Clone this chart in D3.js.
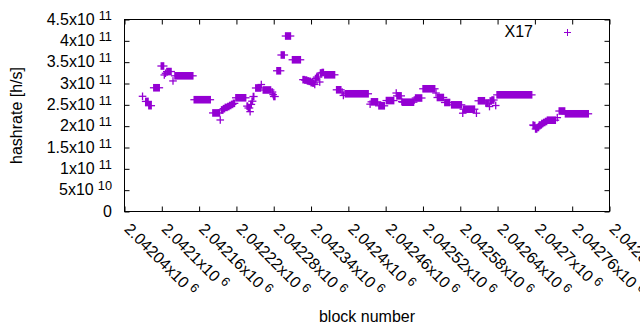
<!DOCTYPE html>
<html>
<head>
<meta charset="utf-8">
<script src="https://cdn.jsdelivr.net/npm/d3@7"></script>
<style>
  body { margin: 0; background: #fff; }
  svg { display: block; font-family: "Liberation Sans", Arial, sans-serif; }
</style>
</head>
<body>
<script>
const width = 640,
  height = 330;

// plot frame (pixel edges of the gnuplot box)
const frame = { left: 124.5, right: 609.5, top: 19.5, bottom: 211.5 };

// runs of consecutive blocks that share one hashrate value (h/s)
const runStart = [
  2042069, 2042074, 2042079, 2042087, 2042099, 2042104, 2042106, 2042108, 2042118, 2042121,
  2042152, 2042182, 2042194, 2042196, 2042199, 2042202, 2042206, 2042209, 2042212, 2042215,
  2042219, 2042237, 2042239, 2042242, 2042243, 2042245, 2042247, 2042251, 2042260, 2042263,
  2042277, 2042279, 2042280, 2042285, 2042292, 2042299, 2042310, 2042327, 2042330, 2042334,
  2042337, 2042340, 2042343, 2042346, 2042347, 2042349, 2042354, 2042355, 2042358, 2042362,
  2042381, 2042390, 2042392, 2042395, 2042435, 2042437, 2042449, 2042461, 2042477, 2042478,
  2042486, 2042487, 2042506, 2042508, 2042520, 2042541, 2042543, 2042555, 2042566, 2042584,
  2042585, 2042606, 2042609, 2042621, 2042627, 2042628, 2042631, 2042637, 2042639, 2042697,
  2042698, 2042701, 2042704, 2042707, 2042711, 2042714, 2042717, 2042720, 2042736, 2042739,
  2042749
];
const runEnd = [
  2042069, 2042078, 2042083, 2042096, 2042103, 2042104, 2042106, 2042115, 2042118, 2042150,
  2042178, 2042193, 2042194, 2042198, 2042201, 2042205, 2042208, 2042211, 2042214, 2042217,
  2042235, 2042238, 2042241, 2042242, 2042244, 2042246, 2042248, 2042259, 2042260, 2042275,
  2042278, 2042279, 2042282, 2042291, 2042297, 2042307, 2042323, 2042329, 2042333, 2042336,
  2042339, 2042342, 2042345, 2042346, 2042348, 2042352, 2042354, 2042357, 2042360, 2042378,
  2042388, 2042390, 2042392, 2042432, 2042435, 2042447, 2042458, 2042473, 2042477, 2042485,
  2042486, 2042505, 2042506, 2042518, 2042539, 2042541, 2042553, 2042563, 2042582, 2042584,
  2042603, 2042606, 2042619, 2042625, 2042627, 2042630, 2042634, 2042637, 2042695, 2042697,
  2042700, 2042703, 2042706, 2042710, 2042713, 2042716, 2042719, 2042733, 2042736, 2042748,
  2042786
];
const runRate = [
  270e9, 258e9, 248e9, 290e9, 341e9, 320e9, 324e9, 328e9, 306e9, 318e9,
  262e9, 231e9, 214.5e9, 238e9, 241e9, 244e9, 246e9, 248.5e9, 251e9, 253.5e9,
  266.5e9, 247e9, 242.6e9, 234e9, 251e9, 258.5e9, 269.5e9, 289.5e9, 297.6e9, 284.8e9,
  280e9, 274e9, 269.5e9, 329.8e9, 366.8e9, 411.3e9, 355.6e9, 309e9, 308e9, 306e9,
  305e9, 302e9, 301e9, 297.7e9, 311.7e9, 315e9, 303.5e9, 324.6e9, 325.8e9, 320.4e9,
  285.2e9, 280e9, 272e9, 275.9e9, 251.6e9, 257e9, 247.7e9, 260e9, 277.7e9, 271e9,
  257.8e9, 256.2e9, 261.3e9, 266e9, 287.6e9, 277.7e9, 267.2e9, 255.5e9, 250e9, 230.4e9,
  239.8e9, 230.4e9, 259.5e9, 254.3e9, 246e9, 259e9, 261.3e9, 248.4e9, 273.5e9, 202.7e9,
  201.6e9, 193.4e9, 196.9e9, 202.7e9, 206.3e9, 208.6e9, 211e9, 214e9, 220e9, 235.5e9,
  229e9
];

// axis ticks and their labels
const xTicks = [2042040, 2042100, 2042160, 2042220, 2042280, 2042340, 2042400,
  2042460, 2042520, 2042580, 2042640, 2042700, 2042760, 2042820];
const xTickLabels = ["2.04204", "2.0421", "2.04216", "2.04222", "2.04228", "2.04234", "2.0424",
  "2.04246", "2.04252", "2.04258", "2.04264", "2.0427", "2.04276", "2.04282"];
const yTicks = [0, 5e10, 1e11, 1.5e11, 2e11, 2.5e11, 3e11, 3.5e11, 4e11, 4.5e11];
const yTickBase = ["0", "5x10", "1x10", "1.5x10", "2x10", "2.5x10", "3x10", "3.5x10", "4x10", "4.5x10"];
const yTickExp = ["", "10", "11", "11", "11", "11", "11", "11", "11", "11"];

const seriesName = "X17";
const color = "#9400d3";

const runs = runStart.map((s, i) => ({ start: s, end: runEnd[i], rate: runRate[i] }));

const xScale = d3.scaleLinear()
  .domain([xTicks[0], xTicks[xTicks.length - 1]])
  .range([frame.left, frame.right]);

const yScale = d3.scaleLinear()
  .domain([0, 4.5e11])
  .range([frame.bottom, frame.top]);

const svg = d3.select("body")
  .append("svg")
  .attr("width", width)
  .attr("height", height);

// ticks on all four sides, pointing inward
svg.append("g")
  .attr("transform", `translate(0,${frame.bottom})`)
  .call(d3.axisBottom(xScale).tickValues(xTicks).tickSize(-5).tickFormat(""));
svg.append("g")
  .attr("transform", `translate(0,${frame.top})`)
  .call(d3.axisTop(xScale).tickValues(xTicks).tickSize(-5).tickFormat(""));
svg.append("g")
  .attr("transform", `translate(${frame.left},0)`)
  .call(d3.axisLeft(yScale).tickValues(yTicks).tickSize(-5).tickFormat(""));
svg.append("g")
  .attr("transform", `translate(${frame.right},0)`)
  .call(d3.axisRight(yScale).tickValues(yTicks).tickSize(-5).tickFormat(""));
svg.selectAll(".domain").remove();

svg.append("rect")
  .attr("x", frame.left)
  .attr("y", frame.top)
  .attr("width", frame.right - frame.left)
  .attr("height", frame.bottom - frame.top)
  .attr("fill", "none")
  .attr("stroke", "#000")
  .attr("stroke-width", 1);

// y tick labels with superscript exponent
const yLab = svg.append("g")
  .selectAll("text")
  .data(yTicks)
  .enter()
  .append("text")
  .attr("x", 112)
  .attr("y", d => yScale(d))
  .attr("dy", "0.33em")
  .attr("text-anchor", "end")
  .attr("font-size", 16)
  .attr("fill", "#000");
yLab.append("tspan").text((d, i) => yTickBase[i]);
yLab.filter((d, i) => yTickExp[i] !== "")
  .append("tspan")
  .attr("dx", 4)
  .attr("dy", -5)
  .attr("font-size", 12.8)
  .text(d => yTickExp[yTicks.indexOf(d)]);

// x tick labels, rotated (the last one runs off the page, as in the original)
const xLab = svg.append("g")
  .selectAll("text")
  .data(xTicks)
  .enter()
  .append("text")
  .attr("transform", d => `translate(${xScale(d) - 1},230) rotate(45)`)
  .attr("font-size", 16)
  .attr("fill", "#000");
xLab.append("tspan").text((d, i) => xTickLabels[i] + "x10");
xLab.append("tspan")
  .attr("dx", 4)
  .attr("dy", -5)
  .attr("font-size", 12.8)
  .text("6");

// axis titles
svg.append("text")
  .attr("x", (frame.left + frame.right) / 2)
  .attr("y", 322)
  .attr("text-anchor", "middle")
  .attr("font-size", 16)
  .text("block number");

svg.append("text")
  .attr("transform", `translate(21.5,${(frame.top + frame.bottom) / 2}) rotate(-90)`)
  .attr("text-anchor", "middle")
  .attr("font-size", 16)
  .text("hashrate [h/s]");

// points: each block is a "+" marker; runs of equal value merge into a bar
const arm = 3.8;
const pts = svg.append("g");

pts.selectAll("rect")
  .data(runs)
  .enter()
  .append("rect")
  .attr("x", d => xScale(d.start) - 0.65)
  .attr("y", d => yScale(d.rate) - arm)
  .attr("width", d => xScale(d.end) - xScale(d.start) + 1.3)
  .attr("height", arm * 2)
  .attr("fill", color);

pts.selectAll("path")
  .data(runs)
  .enter()
  .append("path")
  .attr("d", d => `M${xScale(d.start) - arm},${yScale(d.rate)}H${xScale(d.end) + arm}`)
  .attr("stroke", color)
  .attr("stroke-width", 1.3)
  .attr("fill", "none");

// legend
svg.append("text")
  .attr("x", 533)
  .attr("y", 37)
  .attr("text-anchor", "end")
  .attr("font-size", 16)
  .text(seriesName);

svg.append("path")
  .attr("d", "M564,32.5H571M567.5,29V36")
  .attr("stroke", color)
  .attr("stroke-width", 1)
  .attr("fill", "none");
</script>
</body>
</html>
